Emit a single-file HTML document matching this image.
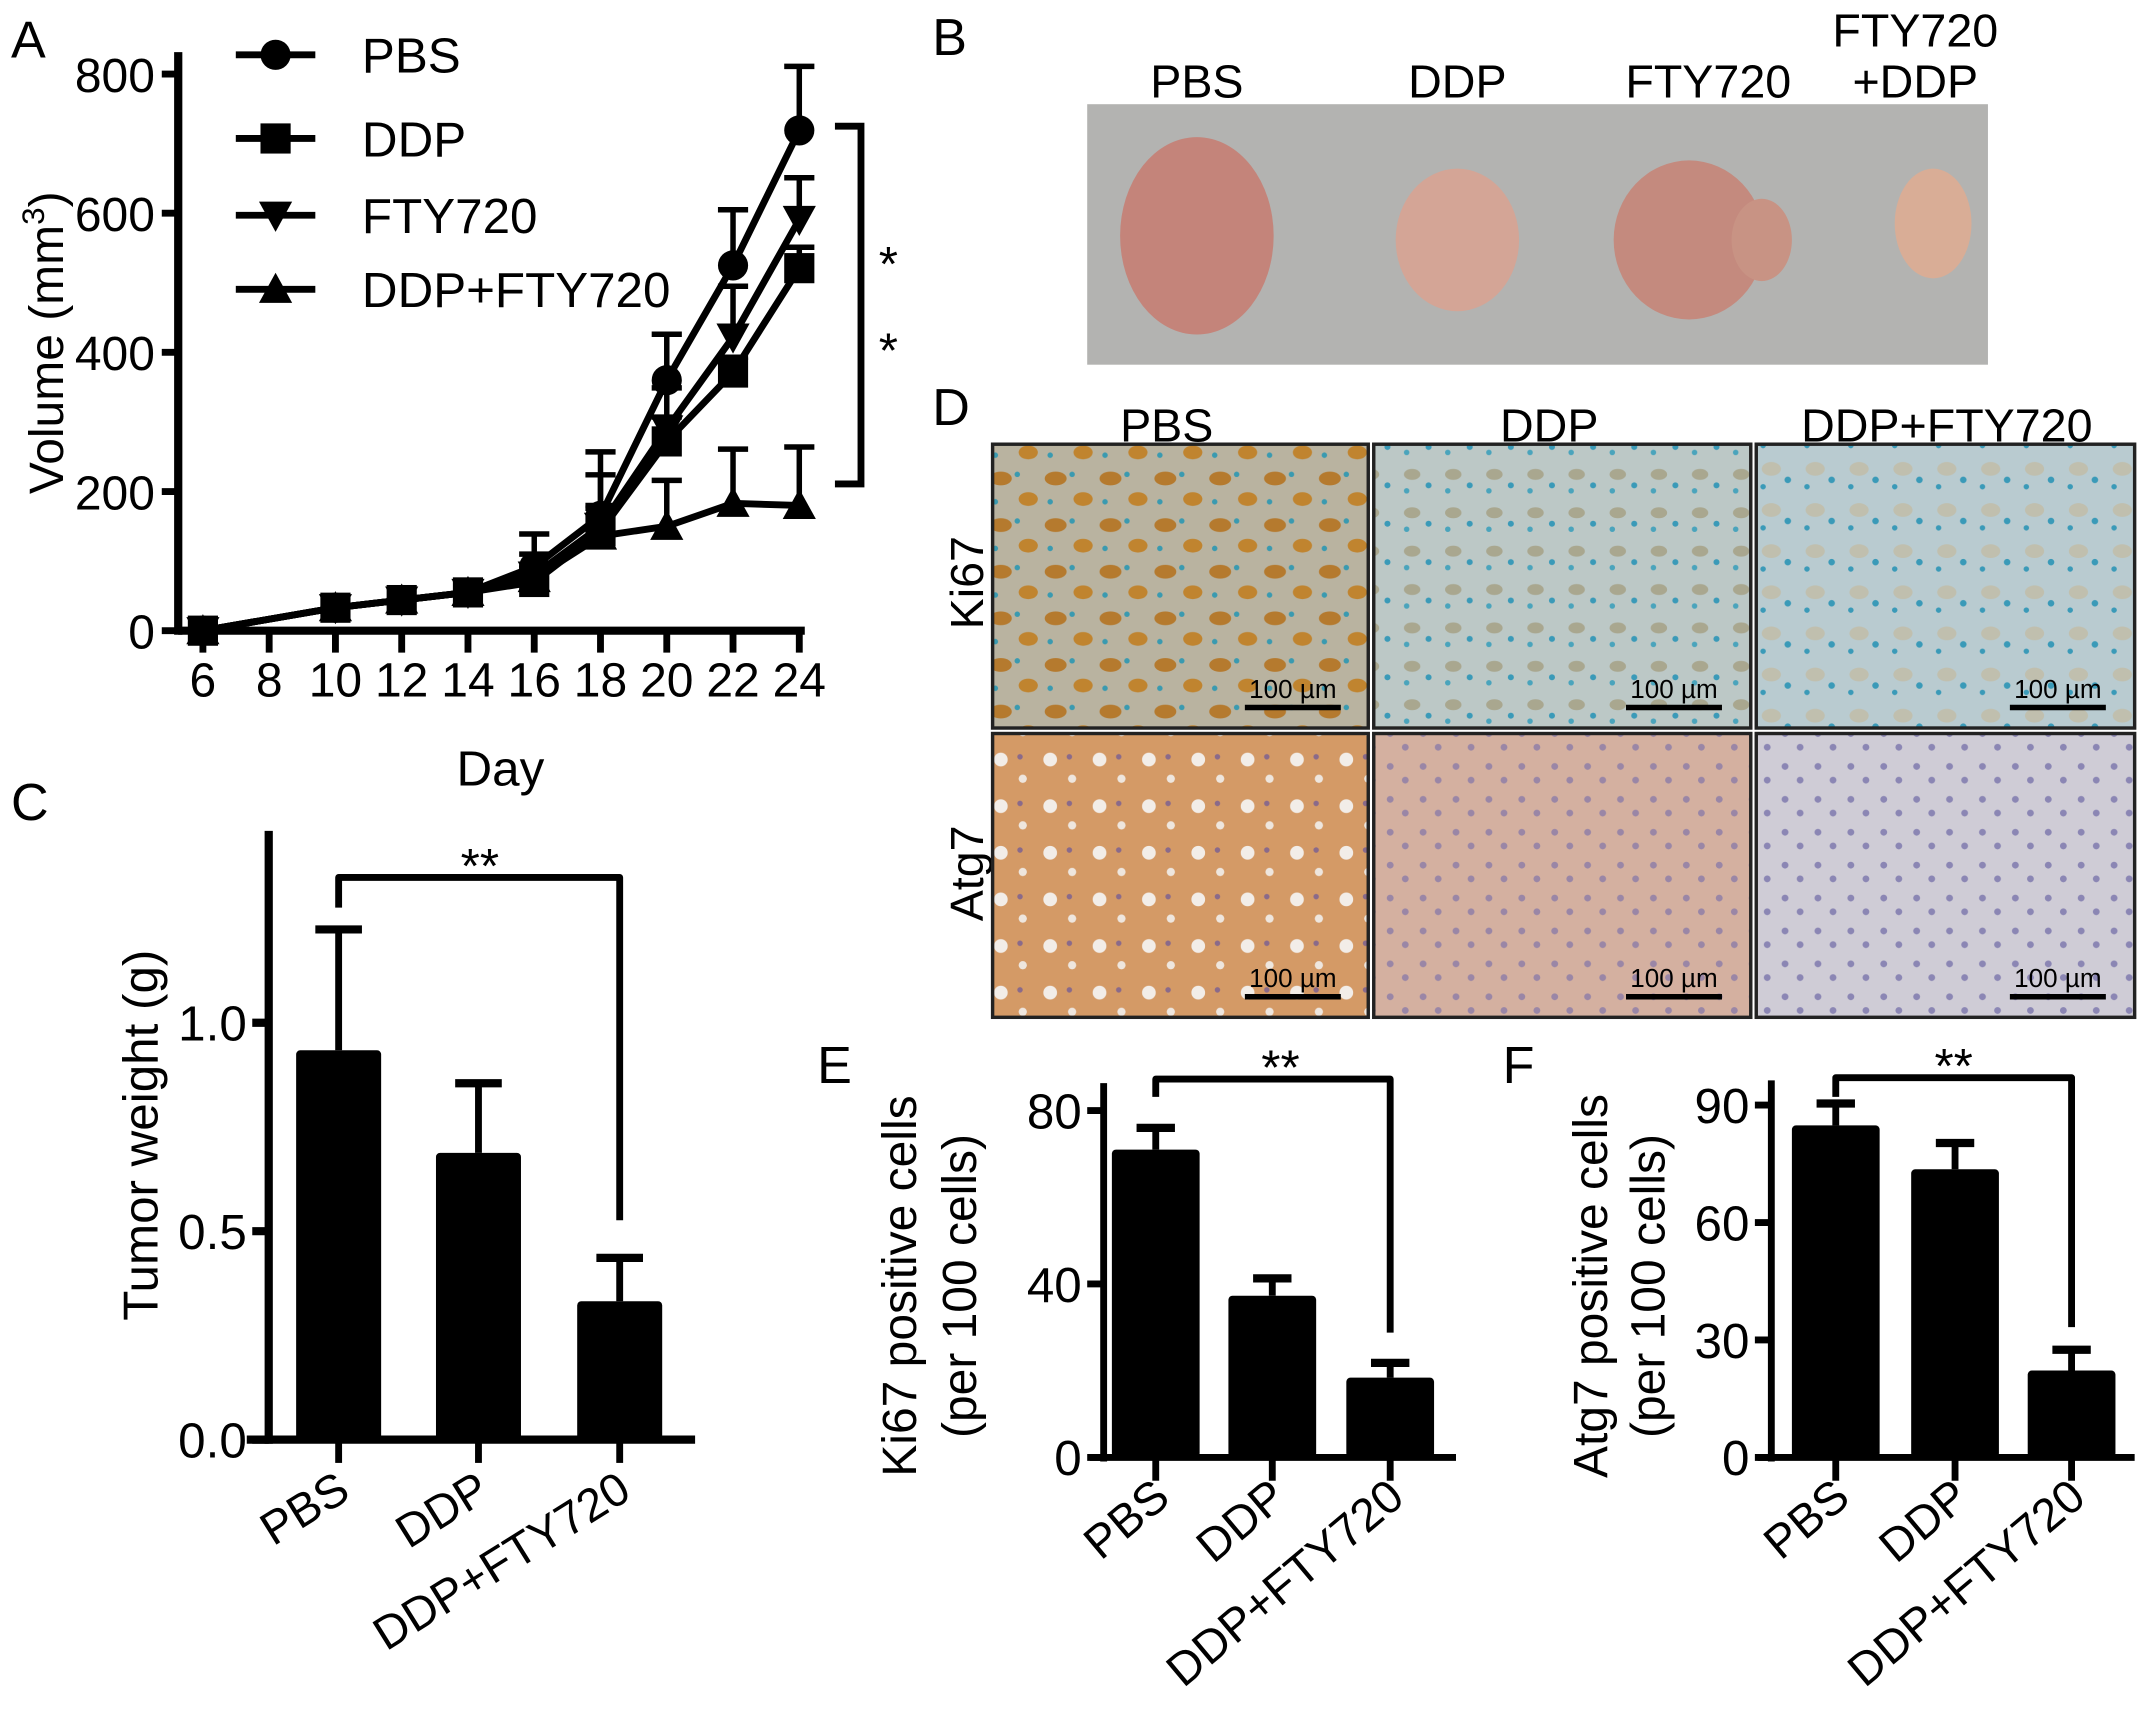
<!DOCTYPE html>
<html><head><meta charset="utf-8"><style>
html,body{margin:0;padding:0;background:#fff;}
svg{display:block;font-family:"Liberation Sans",Arial,sans-serif;}
</style></head><body>
<svg id="fig" width="2150" height="1716" viewBox="0 0 1568.2 1251.6" preserveAspectRatio="none" xmlns="http://www.w3.org/2000/svg">
<defs>
<pattern id="pKiPBS" width="40" height="34" patternUnits="userSpaceOnUse">
<rect width="40" height="34" fill="#b9b3a0"/>
<ellipse cx="10" cy="9" rx="8" ry="5" fill="#b57a2e"/><ellipse cx="30" cy="24" rx="7" ry="5" fill="#c0842f"/>
<circle cx="22" cy="6" r="2" fill="#3a9ab0"/><circle cx="6" cy="26" r="2" fill="#3a9ab0"/>
</pattern>
<pattern id="pKiDDP" width="30" height="28" patternUnits="userSpaceOnUse">
<rect width="30" height="28" fill="#bcc8c6"/><ellipse cx="10" cy="10" rx="6" ry="4" fill="#a9a78f"/>
<circle cx="22" cy="18" r="2.2" fill="#3a9ab8"/><circle cx="6" cy="22" r="2" fill="#4aa4bc"/>
</pattern>
<pattern id="pKiCom" width="32" height="30" patternUnits="userSpaceOnUse">
<rect width="32" height="30" fill="#b9cbd0"/><ellipse cx="12" cy="12" rx="7" ry="5" fill="#c0bfae"/>
<circle cx="24" cy="20" r="2.4" fill="#3a9ab8"/><circle cx="6" cy="25" r="2" fill="#3a9ab8"/>
</pattern>
<pattern id="pAtPBS" width="36" height="34" patternUnits="userSpaceOnUse">
<rect width="36" height="34" fill="#d49a66"/><circle cx="10" cy="10" r="5" fill="#f2ede8"/>
<circle cx="26" cy="24" r="3" fill="#eee6de"/><circle cx="24" cy="8" r="2" fill="#8a6a8a"/>
</pattern>
<pattern id="pAtDDP" width="24" height="24" patternUnits="userSpaceOnUse">
<rect width="24" height="24" fill="#d4b0a0"/><circle cx="6" cy="7" r="2.5" fill="#9a86a6"/>
<circle cx="17" cy="17" r="2.5" fill="#9a86a6"/>
</pattern>
<pattern id="pAtCom" width="24" height="24" patternUnits="userSpaceOnUse">
<rect width="24" height="24" fill="#cfccd6"/><circle cx="6" cy="7" r="2.5" fill="#8b86b4"/>
<circle cx="17" cy="17" r="2.5" fill="#8b86b4"/>
</pattern>
</defs>

<g font-size="38" fill="#000">
<text x="8" y="42">A</text>
<text x="680" y="40">B</text>
<text x="8" y="598">C</text>
<text x="680" y="310">D</text>
<text x="596" y="790">E</text>
<text x="1096" y="790">F</text>
</g>

<text transform="translate(46,250) rotate(-90)" font-size="35" text-anchor="middle">Volume (mm<tspan dy="-14" font-size="23">3</tspan><tspan dy="14">)</tspan></text>

<g id="chartA"></g>
<g id="chartC"></g>
<g id="chartE"></g>
<g id="chartF"></g>

<g>
<rect x="793" y="76" width="657" height="190" fill="#b3b3b1"/>
<ellipse cx="873" cy="172" rx="56" ry="72" fill="#c4847a"/>
<ellipse cx="1063" cy="175" rx="45" ry="52" fill="#d4a596"/>
<ellipse cx="1232" cy="175" rx="55" ry="58" fill="#c48a7e"/>
<ellipse cx="1285" cy="175" rx="22" ry="30" fill="#c89384"/>
<ellipse cx="1410" cy="163" rx="28" ry="40" fill="#d9ad96"/>
<g font-size="34" text-anchor="middle">
<text x="873" y="71">PBS</text>
<text x="1063" y="71">DDP</text>
<text x="1246" y="71">FTY720</text>
<text x="1397" y="34">FTY720</text>
<text x="1397" y="71">+DDP</text>
</g>
</g>

<g>
<g font-size="34" text-anchor="middle">
<text x="851" y="322">PBS</text>
<text x="1130" y="322">DDP</text>
<text x="1420" y="322">DDP+FTY720</text>
<text transform="translate(717,425) rotate(-90)">Ki67</text>
<text transform="translate(717,637) rotate(-90)">Atg7</text>
</g>
<g stroke="#222" stroke-width="2.5">
<rect x="724" y="324" width="274" height="207" fill="url(#pKiPBS)"/>
<rect x="1002" y="324" width="275" height="207" fill="url(#pKiDDP)"/>
<rect x="1281" y="324" width="276" height="207" fill="url(#pKiCom)"/>
<rect x="724" y="535" width="274" height="207" fill="url(#pAtPBS)"/>
<rect x="1002" y="535" width="275" height="207" fill="url(#pAtDDP)"/>
<rect x="1281" y="535" width="276" height="207" fill="url(#pAtCom)"/>
</g>
<g id="scalebars"></g>
</g>

<script>
var NS='http://www.w3.org/2000/svg';
function mk(parent,tag,attrs,txt){var e=document.createElementNS(NS,tag);for(var k in attrs)e.setAttribute(k,attrs[k]);if(txt!==undefined)e.textContent=txt;parent.appendChild(e);return e;}

var aDays=[6,10,12,14,16,18,20,22,24];
var aSeriesNames=['PBS','DDP','FTY720','DDP+FTY720'];
var aPBS=[0,33,44,55,92,165,360,525,719];
var aPBSerr=[0,0,0,0,47,92,66,80,92];
var aDDP=[0,33,44,55,70,143,272,371,521];
var aDDPerr=[0,0,0,0,20,37,35,22,30];
var aFTY=[0,33,44,55,80,150,290,422,591];
var aFTYerr=[0,0,0,0,30,74,59,73,60];
var aCOM=[0,33,44,55,75,136,150,183,180];
var aCOMerr=[0,0,0,0,20,40,66,78,84];
var aYTicks=[0,200,400,600,800];
var aXTicks=[6,8,10,12,14,16,18,20,22,24];

var cCats=['PBS','DDP','DDP+FTY720'];
var cVals=[0.934,0.688,0.332];
var cErr=[0.29,0.167,0.104];
var cTicks=['0.0','0.5','1.0'];

var eCats=['PBS','DDP','DDP+FTY720'];
var eVals=[71,37.3,18.4];
var eErr=[5,4,3.4];
var eTicks=[0,40,80];

var fCats=['PBS','DDP','DDP+FTY720'];
var fVals=[84.8,73.6,22.2];
var fErr=[5.6,6.7,5.3];
var fTicks=[0,30,60,90];

(function(){
var g=document.getElementById('chartA');
var x0=148,x1=583,d0=6,d1=24,yb=460,yt=54;
function X(d){return x0+(d-d0)*(x1-x0)/(d1-d0);}
function Y(v){return yb-(v/800)*(yb-yt);}
var ax=mk(g,'line',{x1:130,y1:460,x2:587,y2:460,stroke:'#000','stroke-width':6});


var ay=mk(g,'line',{x1:130,y1:38,x2:130,y2:463,stroke:'#000','stroke-width':6});


aYTicks.forEach(function(t){
 mk(g,'line',{x1:118,y1:Y(t),x2:130,y2:Y(t),stroke:'#000','stroke-width':5});
 var tx=mk(g,'text',{x:113,y:Y(t)+13,'font-size':35,'text-anchor':'end'},String(t));
 
 
});
aXTicks.forEach(function(t){
 mk(g,'line',{x1:X(t),y1:460,x2:X(t),y2:476,stroke:'#000','stroke-width':5});
 var tx=mk(g,'text',{x:X(t),y:508,'font-size':35,'text-anchor':'middle'},String(t));
 
 
});
var xt=mk(g,'text',{x:365,y:573,'font-size':36,'text-anchor':'middle'},'Day');



function marker(p,type,cx,cy,s){
 if(type==0) return mk(p,'circle',{cx:cx,cy:cy,r:s,fill:'#000'});
 if(type==1) return mk(p,'rect',{x:cx-s,y:cy-s,width:2*s,height:2*s,fill:'#000'});
 if(type==2) return mk(p,'polygon',{points:(cx-s*1.1)+','+(cy-s*0.9)+' '+(cx+s*1.1)+','+(cy-s*0.9)+' '+cx+','+(cy+s*1.1),fill:'#000'});
 return mk(p,'polygon',{points:(cx-s*1.1)+','+(cy+s*0.9)+' '+(cx+s*1.1)+','+(cy+s*0.9)+' '+cx+','+(cy-s*1.1),fill:'#000'});
}
var series=[[aPBS,aPBSerr],[aDDP,aDDPerr],[aFTY,aFTYerr],[aCOM,aCOMerr]];
var order=[3,1,2,0];
order.forEach(function(si){
 var vals=series[si][0],errs=series[si][1];
 var sg=mk(g,'g',{});
 
 
 errs.forEach(function(e,i){
  if(e>0){
   mk(sg,'line',{x1:X(aDays[i]),y1:Y(vals[i]),x2:X(aDays[i]),y2:Y(vals[i]+e),stroke:'#000','stroke-width':4});
   mk(sg,'line',{x1:X(aDays[i])-11,y1:Y(vals[i]+e),x2:X(aDays[i])+11,y2:Y(vals[i]+e),stroke:'#000','stroke-width':4});
  }
 });
 var pts=vals.map(function(v,i){return X(aDays[i])+','+Y(v);}).join(' ');
 mk(sg,'polyline',{points:pts,fill:'none',stroke:'#000','stroke-width':5});
 vals.forEach(function(v,i){
  var m=marker(sg,si,X(aDays[i]),Y(v),11);
  
  
 });
});
var legY=[40,101,157,211];
aSeriesNames.forEach(function(n,i){
 var lg=mk(g,'g',{});
 
 
 mk(lg,'line',{x1:172,y1:legY[i],x2:230,y2:legY[i],stroke:'#000','stroke-width':5});
 marker(lg,i,201,legY[i],11);
 mk(lg,'text',{x:264,y:legY[i]+13,'font-size':36},n);
});
var br=mk(g,'polyline',{points:'609,92 628,92 628,353 609,353',fill:'none',stroke:'#000','stroke-width':5});


mk(g,'text',{x:648,y:205,'font-size':36,'text-anchor':'middle'},'*');
mk(g,'text',{x:648,y:268,'font-size':36,'text-anchor':'middle'},'*');
})();

function barChart(id,cats,vals,errs,ticks,cfg){
 var g=document.getElementById(id);
 function Y(v){return cfg.y0-(v/cfg.vmax)*(cfg.y0-cfg.yTop);}
 var ay=mk(g,'line',{x1:cfg.ax,y1:cfg.axTop,x2:cfg.ax,y2:cfg.y0+3,stroke:'#000','stroke-width':cfg.sw});
 
 
 ticks.forEach(function(t){
  var v=parseFloat(t);
  mk(g,'line',{x1:cfg.ax-12,y1:Y(v),x2:cfg.ax,y2:Y(v),stroke:'#000','stroke-width':cfg.sw});
  var tx=mk(g,'text',{x:cfg.ax-16,y:Y(v)+13,'font-size':cfg.fs,'text-anchor':'end'},String(t));
  
  
 });
 cats.forEach(function(c,i){
  var cx=cfg.cx[i];
  var e=mk(g,'line',{x1:cx,y1:Y(vals[i]),x2:cx,y2:Y(vals[i]+errs[i]),stroke:'#000','stroke-width':5});
  
  
  mk(g,'line',{x1:cx-cfg.cap,y1:Y(vals[i]+errs[i]),x2:cx+cfg.cap,y2:Y(vals[i]+errs[i]),stroke:'#000','stroke-width':6});
  var b=mk(g,'rect',{x:cx-cfg.bw/2,y:Y(vals[i]),width:cfg.bw,height:cfg.y0-Y(vals[i]),fill:'#000',rx:3});
  
  
  mk(g,'line',{x1:cx,y1:cfg.y0,x2:cx,y2:cfg.y0+17,stroke:'#000','stroke-width':5});
  var tl=mk(g,'text',{transform:'translate('+(cx+cfg.lx)+','+(cfg.y0+cfg.ly)+') rotate('+cfg.rot+')','font-size':cfg.fs-2,'text-anchor':'end'},c);
  
  
 });
 var ax=mk(g,'line',{x1:cfg.axL,y1:cfg.y0,x2:cfg.axR,y2:cfg.y0,stroke:'#000','stroke-width':cfg.sw});
 
 
 var br=mk(g,'polyline',{points:cfg.cx[0]+','+cfg.brL+' '+cfg.cx[0]+','+cfg.brY+' '+cfg.cx[2]+','+cfg.brY+' '+cfg.cx[2]+','+cfg.brR,fill:'none',stroke:'#000','stroke-width':5,'stroke-linejoin':'round'});
 
 
 mk(g,'text',{x:cfg.starX,y:cfg.brY+4,'font-size':36,'text-anchor':'middle'},'**');
 cfg.titles.forEach(function(t,k){
  var tt=mk(g,'text',{transform:'translate('+t[0]+','+t[1]+') rotate(-90)','font-size':cfg.tfs,'text-anchor':'middle'},t[2]);
  
  
 });
}
barChart('chartC',cCats,cVals,cErr,cTicks,{y0:1050,yTop:746,vmax:1.0,ax:196,axTop:606,axL:180,axR:507,sw:6,fs:36,cx:[247,349,452],bw:62,cap:17,
 rot:-32,lx:10,ly:42,brY:640,brL:662,brR:890,starX:350,titles:[[115,828,'Tumor weight (g)']],tfs:36});
barChart('chartE',eCats,eVals,eErr,eTicks,{y0:1063,yTop:810,vmax:80,ax:805,axTop:790,axL:795,axR:1062,sw:5,fs:36,cx:[843,928,1014],bw:64,cap:14,
 rot:-40,lx:12,ly:32,brY:787,brL:800,brR:972,starX:934,titles:[[668,938,'Ki67 positive cells'],[712,938,'(per 100 cells)']],tfs:35});
barChart('chartF',fCats,fVals,fErr,fTicks,{y0:1063,yTop:806,vmax:90,ax:1292,axTop:788,axL:1282,axR:1557,sw:5,fs:36,cx:[1339,1426,1511],bw:64,cap:14,
 rot:-40,lx:12,ly:32,brY:786,brL:800,brR:968,starX:1425,titles:[[1172,938,'Atg7 positive cells'],[1214,938,'(per 100 cells)']],tfs:35});

(function(){
 var g=document.getElementById('scalebars');
 var cols=[908,1186,1466];var rows=[516,727];
 rows.forEach(function(r){cols.forEach(function(c){
  var sb=mk(g,'g',{});
  
  
  mk(sb,'line',{x1:c,y1:r,x2:c+70,y2:r,stroke:'#000','stroke-width':4});
  mk(sb,'text',{x:c+35,y:r-7,'font-size':19,'text-anchor':'middle'},'100 \u00b5m');
 });});
})();
</script>
</svg>
</body></html>
